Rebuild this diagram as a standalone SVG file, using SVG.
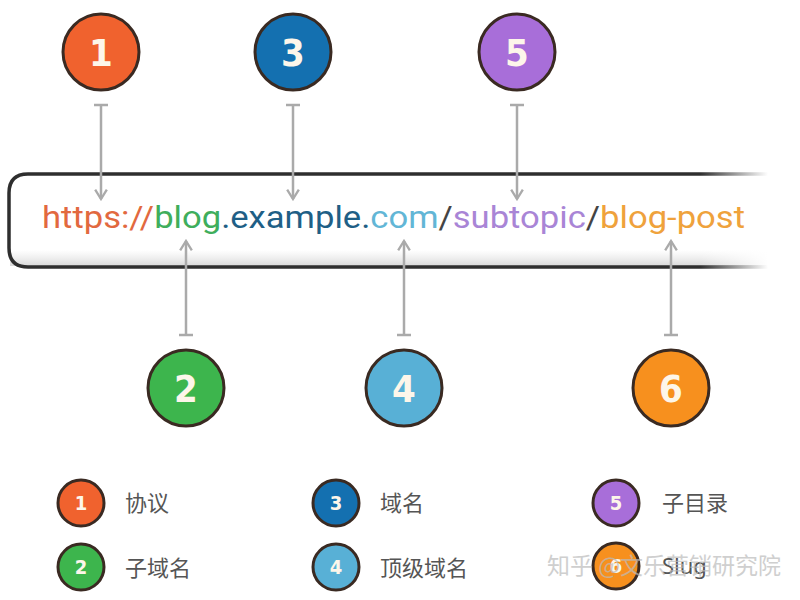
<svg xmlns="http://www.w3.org/2000/svg" width="800" height="600" viewBox="0 0 800 600">
  <defs>
    <style>
      .node circle { stroke: #3a2a22; stroke-width: 3; }
      .num { font-family: "DejaVu Sans Condensed", "Roboto", "Liberation Sans", sans-serif; font-weight: bold; fill: #fdf6ea; text-anchor: middle; }
      .big { font-size: 38px; }
      .small { font-size: 20px; }
      .lbl { font-family: "Noto Sans", "Noto Sans CJK SC", sans-serif; font-size: 22px; fill: #555; }
      .conn line { stroke: #aaaaaa; stroke-width: 2.5; }
      .url { font-family: "Roboto", "Open Sans", "Liberation Sans", sans-serif; font-size: 32px; }
      .wm { font-family: "Noto Sans CJK SC", sans-serif; font-size: 23px; fill: #bbbbbb; opacity: 0.7; }
    </style>
    <marker id="arrow" viewBox="0 0 12 12" refX="10" refY="6" markerWidth="14" markerHeight="14" markerUnits="userSpaceOnUse" orient="auto">
      <path d="M2,1 L10,6 L2,11" fill="none" stroke="#aaaaaa" stroke-width="2"/>
    </marker>
    <marker id="tbar" viewBox="0 0 12 14" refX="6" refY="7" markerWidth="12" markerHeight="14" markerUnits="userSpaceOnUse" orient="auto">
      <path d="M6,0 L6,14" fill="none" stroke="#aaaaaa" stroke-width="2.5"/>
    </marker>
    <linearGradient id="fade" gradientUnits="userSpaceOnUse" x1="700" y1="0" x2="768" y2="0">
      <stop offset="0" stop-color="#2e2e2e" stop-opacity="1"/>
      <stop offset="1" stop-color="#2e2e2e" stop-opacity="0"/>
    </linearGradient>
    <linearGradient id="shade" x1="0" y1="0" x2="0" y2="1">
      <stop offset="0" stop-color="#e4e4e4" stop-opacity="0"/>
      <stop offset="1" stop-color="#d8d8d8" stop-opacity="1"/>
    </linearGradient>
    <linearGradient id="shadeFade" gradientUnits="userSpaceOnUse" x1="700" y1="0" x2="768" y2="0">
      <stop offset="0" stop-color="#fff" stop-opacity="0"/>
      <stop offset="1" stop-color="#fff" stop-opacity="1"/>
    </linearGradient>
  </defs>

  <rect width="800" height="600" fill="#ffffff"/>

  <!-- URL bar -->
  <g id="urlbar">
    <rect x="10" y="250" width="790" height="16" fill="url(#shade)"/>
    <rect x="700" y="248" width="100" height="20" fill="url(#shadeFade)"/>
    <path d="M800,174 L28,174 Q9,174 9,193 L9,248 Q9,267 28,267 L800,267" fill="none" stroke="url(#fade)" stroke-width="3.5"/>
    <text class="url" x="42" y="228" textLength="703" lengthAdjust="spacingAndGlyphs"><tspan fill="#e2693f">https://</tspan><tspan fill="#3fae5c">blog</tspan><tspan fill="#1f5f86">.example.</tspan><tspan fill="#62b6d6">com</tspan><tspan fill="#444">/</tspan><tspan fill="#a985d6">subtopic</tspan><tspan fill="#444">/</tspan><tspan fill="#efa23c">blog-post</tspan></text>
  </g>

  <!-- connectors -->
  <g id="connectors" class="conn">
    <line x1="101" y1="105" x2="101" y2="199" marker-start="url(#tbar)" marker-end="url(#arrow)"/>
    <line x1="293" y1="105" x2="293" y2="199" marker-start="url(#tbar)" marker-end="url(#arrow)"/>
    <line x1="517" y1="105" x2="517" y2="199" marker-start="url(#tbar)" marker-end="url(#arrow)"/>
    <line x1="186" y1="335" x2="186" y2="241" marker-start="url(#tbar)" marker-end="url(#arrow)"/>
    <line x1="404" y1="335" x2="404" y2="241" marker-start="url(#tbar)" marker-end="url(#arrow)"/>
    <line x1="671" y1="335" x2="671" y2="241" marker-start="url(#tbar)" marker-end="url(#arrow)"/>
  </g>

  <!-- main nodes -->
  <g id="node1" class="node"><circle cx="101" cy="52" r="38" fill="#f0622e"/><text class="num big" x="101" y="66">1</text></g>
  <g id="node3" class="node"><circle cx="293" cy="52" r="38" fill="#1470b0"/><text class="num big" x="293" y="66">3</text></g>
  <g id="node5" class="node"><circle cx="517" cy="52" r="38" fill="#a86ed9"/><text class="num big" x="517" y="66">5</text></g>
  <g id="node2" class="node"><circle cx="186" cy="388" r="38" fill="#3db54d"/><text class="num big" x="186" y="402">2</text></g>
  <g id="node4" class="node"><circle cx="404" cy="388" r="38" fill="#58b0d6"/><text class="num big" x="404" y="402">4</text></g>
  <g id="node6" class="node"><circle cx="671" cy="388" r="38" fill="#f7901e"/><text class="num big" x="671" y="402">6</text></g>

  <!-- legend -->
  <g id="legend1" class="node"><circle cx="81" cy="503" r="23" fill="#f0622e"/><text class="num small" x="81" y="510">1</text><text class="lbl" x="125" y="511">协议</text></g>
  <g id="legend2" class="node"><circle cx="81" cy="567" r="23" fill="#3db54d"/><text class="num small" x="81" y="574">2</text><text class="lbl" x="125" y="576">子域名</text></g>
  <g id="legend3" class="node"><circle cx="336" cy="503" r="23" fill="#1470b0"/><text class="num small" x="336" y="510">3</text><text class="lbl" x="380" y="511">域名</text></g>
  <g id="legend4" class="node"><circle cx="336" cy="567" r="23" fill="#58b0d6"/><text class="num small" x="336" y="574">4</text><text class="lbl" x="380" y="576">顶级域名</text></g>
  <g id="legend5" class="node"><circle cx="616" cy="503" r="23" fill="#a86ed9"/><text class="num small" x="616" y="510">5</text><text class="lbl" x="662" y="511">子目录</text></g>
  <g id="legend6" class="node"><circle cx="616" cy="566" r="23" fill="#f7901e"/><text class="num small" x="616" y="573">6</text><text class="lbl" x="662" y="574">Slug</text></g>

  <!-- watermark -->
  <text class="wm" x="547" y="574">知乎 @文乐营销研究院</text>
</svg>
